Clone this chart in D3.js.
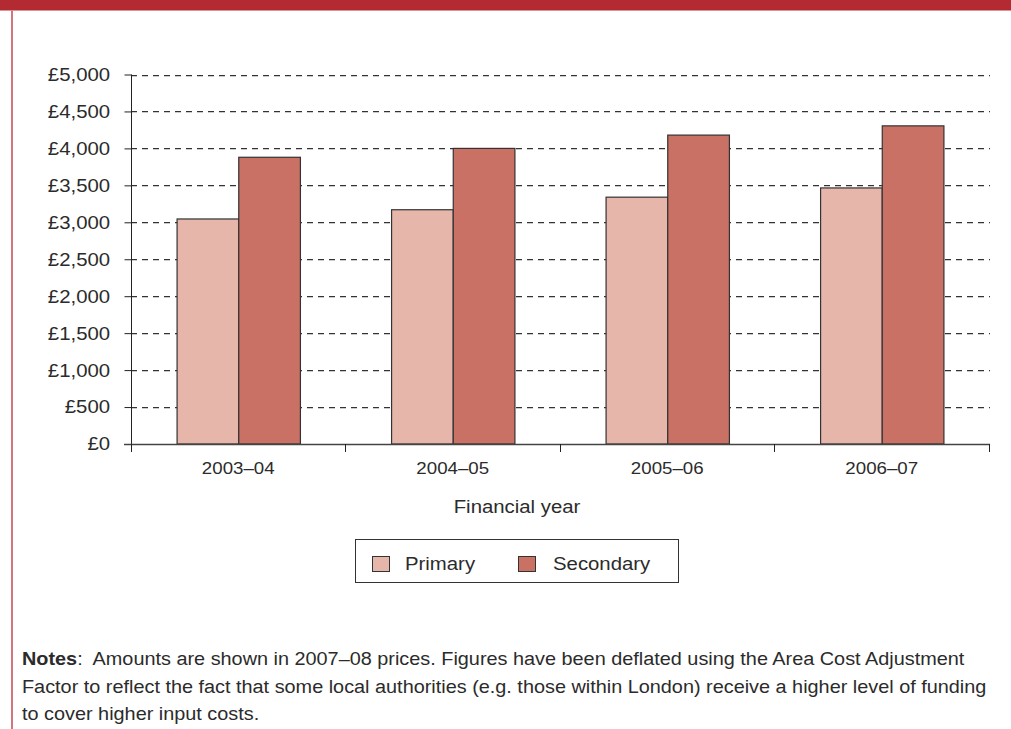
<!DOCTYPE html>
<html>
<head>
<meta charset="utf-8">
<script src="https://cdn.jsdelivr.net/npm/d3@7"></script>
<style>
  html, body { margin: 0; padding: 0; background: #fff; }
  svg { display: block; font-family: "Liberation Sans", Arial, Helvetica, sans-serif; }
</style>
</head>
<body>
<svg id="chart" width="1011" height="729"></svg>
<script>
// Funding per pupil by school phase (2007–08 prices)
const years = ["2003–04", "2004–05", "2005–06", "2006–07"];
const primary = [3045, 3170, 3340, 3465];
const secondary = [3880, 4000, 4180, 4305];
const seriesNames = ["Primary", "Secondary"];
const seriesColors = ["#e6b6ab", "#c97165"];
const yTicks = [0, 500, 1000, 1500, 2000, 2500, 3000, 3500, 4000, 4500, 5000];
const notesLines = [
  "Amounts are shown in 2007–08 prices. Figures have been deflated using the Area Cost Adjustment",
  "Factor to reflect the fact that some local authorities (e.g. those within London) receive a higher level of funding",
  "to cover higher input costs."
];

const svg = d3.select("#chart");
const W = 1011, H = 729;
const textColor = "#2b2b2b";
const SX = 1.1; // horizontal widening of the typeface

// place a text element at (x, y) with the widened face
function placeText(sel, x, y) {
  return sel.attr("x", 0).attr("y", 0).attr("transform", `translate(${x},${y}) scale(${SX},1)`);
}

// page frame: top band and left rule
svg.append("rect").attr("x", 0).attr("y", 0).attr("width", W).attr("height", 10.5).attr("fill", "#b42a33");
svg.append("rect").attr("x", 11).attr("y", 10.5).attr("width", 2).attr("height", H - 10.5).attr("fill", "#d7747b");

const plot = { left: 131, right: 989, top: 74.5, bottom: 444 };

const y = d3.scaleLinear().domain([0, 5000]).range([plot.bottom, plot.top]);
const x0 = d3.scaleBand().domain(years).range([plot.left, plot.right]).paddingInner(0.425).paddingOuter(0.2125);
const x1 = d3.scaleBand().domain(seriesNames).range([0, x0.bandwidth()]);
const color = d3.scaleOrdinal().domain(seriesNames).range(seriesColors);

const fmt = v => "£" + d3.format(",")(v);

// dashed gridlines
svg.append("g")
  .selectAll("line")
  .data(yTicks.filter(d => d > 0))
  .join("line")
  .attr("x1", plot.left).attr("x2", plot.right + 1)
  .attr("y1", d => Math.round(y(d)) + 0.5).attr("y2", d => Math.round(y(d)) + 0.5)
  .attr("stroke", "#333").attr("stroke-width", 1.25)
  .attr("stroke-dasharray", "6,5");

// y axis
const yAxis = d3.axisLeft(y).tickValues(yTicks).tickFormat(fmt).tickSize(7).tickPadding(12);
const gy = svg.append("g").attr("transform", `translate(${plot.left + 0.5},0)`).call(yAxis);
gy.select(".domain").attr("stroke", "#222").attr("d", `M0,${y(5000)}V${y(0)}`);
gy.selectAll(".tick line").attr("stroke", "#222");
gy.selectAll(".tick text")
  .attr("fill", textColor)
  .style("font-size", "18.5px")
  .attr("x", -19.5)
  .attr("transform", `scale(${SX},1)`);

// bars
const data = years.map((yr, i) => ({ year: yr, values: [
  { key: "Primary", value: primary[i] },
  { key: "Secondary", value: secondary[i] }
]}));

svg.append("g")
  .selectAll("g")
  .data(data)
  .join("g")
  .attr("transform", d => `translate(${x0(d.year)},0)`)
  .selectAll("rect")
  .data(d => d.values)
  .join("rect")
  .attr("x", d => x1(d.key) + 0.5)
  .attr("y", d => y(d.value))
  .attr("width", x1.bandwidth())
  .attr("height", d => y(0) - y(d.value))
  .attr("fill", d => color(d.key))
  .attr("stroke", "#333")
  .attr("stroke-width", 1.2);

// x axis baseline with category boundary ticks
const step = x0.step();
const bounds = [plot.left].concat(years.map(yr => x0(yr) + x0.bandwidth() + (step - x0.bandwidth()) / 2));
const gx = svg.append("g");
gx.append("line")
  .attr("x1", plot.left - 7).attr("x2", plot.right + 1)
  .attr("y1", plot.bottom + 0.5).attr("y2", plot.bottom + 0.5)
  .attr("stroke", "#444").attr("stroke-width", 1.3);
gx.selectAll("line.bt")
  .data(bounds)
  .join("line")
  .attr("class", "bt")
  .attr("x1", d => Math.round(d) + 0.5).attr("x2", d => Math.round(d) + 0.5)
  .attr("y1", plot.bottom).attr("y2", plot.bottom + 8)
  .attr("stroke", "#222");
gx.selectAll("text")
  .data(years)
  .join("text")
  .attr("text-anchor", "middle")
  .attr("fill", textColor)
  .style("font-size", "17px")
  .text(d => d)
  .each(function (d) { placeText(d3.select(this), x0(d) + x0.bandwidth() / 2, 474); });

// x axis title, centred on the figure
placeText(svg.append("text"), 517, 513)
  .attr("text-anchor", "middle")
  .attr("fill", textColor)
  .style("font-size", "18.5px")
  .text("Financial year");

// legend
const lg = svg.append("g");
lg.append("rect").attr("x", 355.5).attr("y", 539.5).attr("width", 323).attr("height", 43)
  .attr("fill", "#fff").attr("stroke", "#333").attr("stroke-width", 1);
const legendItems = [
  { key: "Primary", sx: 372.5, tx: 405 },
  { key: "Secondary", sx: 518.5, tx: 553 }
];
legendItems.forEach(it => {
  lg.append("rect").attr("x", it.sx).attr("y", 556.5).attr("width", 17).attr("height", 15)
    .attr("fill", color(it.key)).attr("stroke", "#333").attr("stroke-width", 1);
  placeText(lg.append("text"), it.tx, 570).attr("fill", textColor)
    .style("font-size", "18.5px").text(it.key);
});

// notes
notesLines.forEach((line, i) => {
  const t = placeText(svg.append("text"), 22, 665 + i * 27.5)
    .attr("fill", textColor)
    .style("font-size", "18.05px")
    .style("white-space", "pre");
  if (i === 0) {
    t.append("tspan").style("font-weight", "bold").text("Notes");
    t.append("tspan").text(":  " + line);
  } else {
    t.text(line);
  }
});
</script>
</body>
</html>
